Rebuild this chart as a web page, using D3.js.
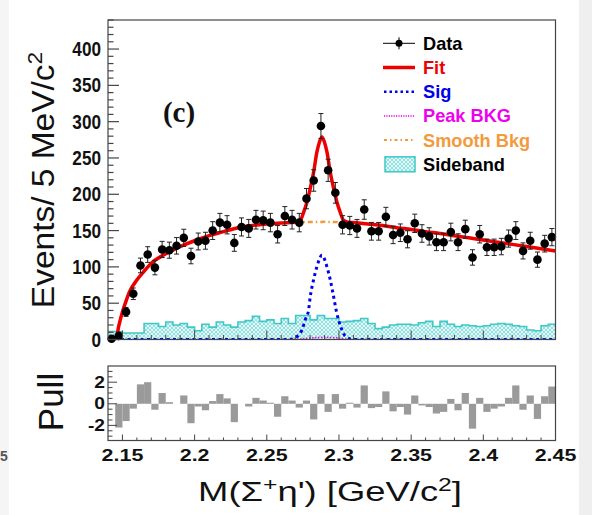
<!DOCTYPE html>
<html>
<head>
<meta charset="utf-8">
<script src="https://cdn.jsdelivr.net/npm/d3@7"></script>
<style>
  html, body { margin: 0; padding: 0; background: #fff; }
  svg { display: block; font-family: "Liberation Sans", Arial, Helvetica, sans-serif; }
</style>
</head>
<body>
<div id="container"></div>
<script>
/* CONSTANTS AND GLOBALS */
const width = 592,
  height = 515,
  main = { left: 108, right: 555.5, top: 20, bottom: 339.5 },
  pull = { left: 108, right: 555.5, top: 366, bottom: 440.5 }

/* DATA */
// bins of 5 MeV from 2.14 to 2.45
const binLo = 2.14, binW = 0.005
const dataCounts = [1, 5, 38, 63, 102, 117, 99, 124, 123, 129,
  140, 115, 135, 136, 150, 161, 158, 133, 155, 153,
  165, 164, 161, 145, 170, 165, 161, 194, 219, 294,
  233, 202, 158, 157, 153, 179, 149, 149, 169, 144,
  147, 138, 160, 146, 142, 134, 134, 148, 134, 152,
  113, 145, 127, 127, 128, 139, 150, 122, 136, 110,
  132, 141]
const sidebandCounts = [11, 11, 9, 9, 9, 22, 22, 18, 24, 20,
  22, 17, 12, 21, 17, 24, 20, 17, 24, 26,
  32, 25, 27, 22, 29, 22, 33, 33, 27, 33,
  29, 29, 24, 25, 26, 29, 22, 15, 17, 20,
  21, 21, 20, 23, 25, 18, 25, 21, 18, 20,
  19, 18, 19, 21, 22, 21, 19, 18, 13, 12,
  19, 21]
const pullVals = [0, -2.2, -1.6, -0.45, 1.8, 2.0, -0.55, 1.0, 0.15, 0,
  0.77, -1.8, -0.25, -0.6, 0.25, 0.9, 0.5, -1.7, 0, -0.25,
  0.55, 0.3, 0.1, -1.2, 0.7, 0.3, -0.35, 0.3, -1.45, 0.9,
  -0.75, 0.9, -0.45, 0.1, -0.35, 1.7, -0.4, -0.3, 1.15, -0.7,
  -0.3, -1.0, 0.77, -0.15, -0.3, -0.9, -0.75, 0.45, -0.6, 1.0,
  -2.3, 0.55, -0.75, -0.45, -0.25, 0.55, 1.7, -0.55, 0.77, -1.4,
  0.7, 1.6]

// fit curve
const fitMass = [2.1462, 2.147, 2.148, 2.150, 2.152, 2.155, 2.160, 2.165, 2.170, 2.180,
  2.190, 2.200, 2.210, 2.220, 2.230, 2.240, 2.250, 2.260, 2.270, 2.2732,
  2.2755, 2.2778, 2.2801, 2.2824, 2.2847, 2.2865, 2.2882, 2.2899, 2.2917, 2.2940,
  2.2963, 2.2986, 2.3009, 2.3032, 2.3055, 2.310, 2.320, 2.330, 2.340, 2.350,
  2.360, 2.370, 2.380, 2.390, 2.400, 2.410, 2.420, 2.430, 2.440, 2.450]
const fitVals = [0, 14, 23, 38, 50, 66, 82, 94, 105, 118,
  128, 136, 143, 148.5, 154, 157, 159, 160.5, 161.5, 164,
  175, 189, 208, 230, 258, 272, 279, 272, 258, 230,
  208, 189, 175, 164, 162, 161, 159, 157, 154, 151.5,
  148.5, 146, 143, 140, 137, 134, 131, 128, 125, 122]

// smooth background
const bkgMass = [2.1462, 2.147, 2.148, 2.150, 2.152, 2.155, 2.160, 2.165, 2.170, 2.180,
  2.190, 2.200, 2.210, 2.220, 2.230, 2.240, 2.250, 2.260, 2.270, 2.280,
  2.290, 2.300, 2.310, 2.320, 2.330, 2.340, 2.350, 2.360, 2.370, 2.380,
  2.390, 2.400, 2.410, 2.420, 2.430, 2.440, 2.450]
const bkgVals = [0, 14, 23, 38, 50, 66, 82, 94, 105, 118,
  128, 136, 143, 148.5, 154, 157, 159, 160.5, 161.5, 161.8,
  162, 161.8, 161, 159, 157, 154, 151.5, 148.5, 146, 143,
  140, 137, 134, 131, 128, 125, 122]

// signal shape
const sigMass = [2.140, 2.266, 2.2720, 2.2743, 2.2766, 2.2789, 2.2801, 2.2824, 2.2847, 2.2882,
  2.2917, 2.2940, 2.2963, 2.2981, 2.2997, 2.3021, 2.3044, 2.310, 2.450]
const sigVals = [0, 0, 6, 13, 27, 40, 59, 82, 100, 116,
  100, 82, 59, 40, 27, 13, 4.5, 0, 0]

// peaking background
const peakMass = [2.140, 2.268, 2.280, 2.290, 2.300, 2.308, 2.450]
const peakVals = [0, 0, 2, 3, 2, 0, 0]

const yTicks = [0, 50, 100, 150, 200, 250, 300, 350, 400]
const xTicks = [2.15, 2.2, 2.25, 2.3, 2.35, 2.4, 2.45]
const pullTicks = [-2, 0, 2]

const legendItems = [
  { label: "Data", color: "#000" },
  { label: "Fit", color: "#ee0000" },
  { label: "Sig", color: "#0000ee" },
  { label: "Peak BKG", color: "#ee00ee" },
  { label: "Smooth Bkg", color: "#f39a3c" },
  { label: "Sideband", color: "#000" }
]

/* SCALES */
const xScale = d3.scaleLinear()
  .domain([2.14, 2.45])
  .range([main.left, main.right])

const yScale = d3.scaleLinear()
  .domain([0, 440])
  .range([main.bottom, main.top])

const pScale = d3.scaleLinear()
  .domain([-3.4, 3.5])
  .range([pull.bottom, pull.top])

/* HTML ELEMENTS */
const svg = d3.select("#container")
  .append("svg")
  .attr("width", width)
  .attr("height", height)

// page edges
svg.append("rect").attr("x", 0).attr("y", 0).attr("width", width).attr("height", height).attr("fill", "#fff")
svg.append("rect").attr("x", 579).attr("y", 0).attr("width", 13).attr("height", height).attr("fill", "#efefef")
svg.append("rect").attr("x", 0).attr("y", 0).attr("width", 9).attr("height", height).attr("fill", "#f5f5f5")
svg.append("text").attr("x", 0).attr("y", 461).attr("font-size", 14).attr("font-weight", "bold").attr("fill", "#555").text("5")

// hatch pattern for sideband
const defs = svg.append("defs")
const pat = defs.append("pattern")
  .attr("id", "hatch")
  .attr("patternUnits", "userSpaceOnUse")
  .attr("width", 4).attr("height", 4)
pat.append("rect").attr("width", 4).attr("height", 4).attr("fill", "#e4f8f8")
pat.append("path").attr("d", "M0,0 L4,4 M4,0 L0,4").attr("stroke", "#6ed6d6").attr("stroke-width", 0.7)

defs.append("clipPath").attr("id", "clipMain")
  .append("rect").attr("x", main.left).attr("y", main.top)
  .attr("width", main.right - main.left).attr("height", main.bottom - main.top)

const plot = svg.append("g").attr("clip-path", "url(#clipMain)")

// sideband histogram
const bins = dataCounts.map((d, i) => ({ lo: binLo + i * binW, hi: binLo + (i + 1) * binW }))
const sbArea = d3.area()
  .curve(d3.curveStepAfter)
  .x(d => xScale(d.x))
  .y0(yScale(0))
  .y1(d => yScale(d.y))
const sbPts = sidebandCounts.map((c, i) => ({ x: bins[i].lo, y: c }))
sbPts.push({ x: bins[bins.length - 1].hi, y: sidebandCounts[sidebandCounts.length - 1] })
plot.append("path")
  .datum(sbPts)
  .attr("d", sbArea)
  .attr("fill", "url(#hatch)")
plot.append("path")
  .datum(sbPts)
  .attr("d", d3.line().curve(d3.curveStepAfter).x(d => xScale(d.x)).y(d => yScale(d.y)))
  .attr("fill", "none")
  .attr("stroke", "#3fc8c8")
  .attr("stroke-width", 1.6)

// curves
const curveLine = d3.line()
  .curve(d3.curveMonotoneX)
  .x(d => xScale(d[0]))
  .y(d => yScale(d[1]))

plot.append("path")
  .datum(peakMass.map((m, i) => [m, peakVals[i]]))
  .attr("d", curveLine)
  .attr("fill", "none")
  .attr("stroke", "#ee00ee")
  .attr("stroke-width", 1.5)
  .attr("stroke-dasharray", "1.5,1.5")

plot.append("path")
  .datum(sigMass.map((m, i) => [m, sigVals[i]]))
  .attr("d", curveLine)
  .attr("fill", "none")
  .attr("stroke", "#0000ee")
  .attr("stroke-width", 3)
  .attr("stroke-dasharray", "3,3.5")

plot.append("path")
  .datum(bkgMass.map((m, i) => [m, bkgVals[i]]))
  .attr("d", curveLine)
  .attr("fill", "none")
  .attr("stroke", "#f39a3c")
  .attr("stroke-width", 2.5)
  .attr("stroke-dasharray", "5,3,1.5,3")

plot.append("path")
  .datum(fitMass.map((m, i) => [m, fitVals[i]]))
  .attr("d", curveLine)
  .attr("fill", "none")
  .attr("stroke", "#ee0000")
  .attr("stroke-width", 3.5)

// data points with sqrt(N) errors
const pts = svg.append("g")
const dataPts = dataCounts.map((c, i) => ({ x: (bins[i].lo + bins[i].hi) / 2, y: c, e: Math.sqrt(c) }))
pts.selectAll("line.err")
  .data(dataPts)
  .join("line")
  .attr("class", "err")
  .attr("x1", d => xScale(d.x)).attr("x2", d => xScale(d.x))
  .attr("y1", d => yScale(d.y - d.e)).attr("y2", d => yScale(d.y + d.e))
  .attr("stroke", "#222").attr("stroke-width", 1)
pts.selectAll("path.cap")
  .data(dataPts)
  .join("path")
  .attr("class", "cap")
  .attr("d", d => {
    const x = xScale(d.x), a = yScale(d.y - d.e), b = yScale(d.y + d.e)
    return `M${x - 2.5},${a}H${x + 2.5}M${x - 2.5},${b}H${x + 2.5}`
  })
  .attr("stroke", "#222").attr("stroke-width", 1)
pts.selectAll("circle.dot")
  .data(dataPts)
  .join("circle")
  .attr("class", "dot")
  .attr("cx", d => xScale(d.x))
  .attr("cy", d => yScale(d.y))
  .attr("r", 4.3)
  .attr("fill", "#000")

// frame + ticks (main)
svg.append("rect")
  .attr("x", main.left).attr("y", main.top)
  .attr("width", main.right - main.left).attr("height", main.bottom - main.top)
  .attr("fill", "none").attr("stroke", "#444").attr("stroke-width", 1.2)

const yMinor = d3.range(0, 441, 10)
svg.append("g").selectAll("line")
  .data(yMinor)
  .join("line")
  .attr("x1", main.left)
  .attr("x2", d => main.left + (d % 50 === 0 ? 11 : 5.5))
  .attr("y1", d => yScale(d)).attr("y2", d => yScale(d))
  .attr("stroke", "#444").attr("stroke-width", 1.2)

const xMinor = d3.range(0, 31).map(i => 2.15 + i * 0.01).filter(v => v <= 2.4501)
svg.append("g").selectAll("line")
  .data(xMinor)
  .join("line")
  .attr("x1", d => xScale(d)).attr("x2", d => xScale(d))
  .attr("y1", main.bottom)
  .attr("y2", (d, i) => main.bottom - (i % 5 === 0 ? 9 : 4.5))
  .attr("stroke", "#444").attr("stroke-width", 1)

svg.append("g").selectAll("text")
  .data(yTicks)
  .join("text")
  .attr("transform", d => `translate(101,${yScale(d) + 7}) scale(0.88,1)`)
  .attr("text-anchor", "end")
  .attr("font-size", 19.5)
  .attr("font-weight", "bold")
  .attr("fill", "#111")
  .text(d => d)

// y title
const yt = svg.append("text")
  .attr("transform", `translate(54,180) rotate(-90) scale(1.08,1)`)
  .attr("text-anchor", "middle")
  .attr("font-size", 31)
  .attr("fill", "#111")
yt.append("tspan").text("Events/ 5 MeV/c")
yt.append("tspan").attr("baseline-shift", "super").attr("font-size", 21).text("2")

// (c)
svg.append("text")
  .attr("x", 179).attr("y", 122)
  .attr("text-anchor", "middle")
  .attr("font-family", '"Liberation Serif", "DejaVu Serif", serif')
  .attr("font-weight", "bold")
  .attr("font-size", 29)
  .attr("fill", "#111")
  .text("(c)")

// legend
const legY = d3.scaleLinear().domain([0, 5]).range([43.3, 164.3])
const leg = svg.append("g")
leg.selectAll("text")
  .data(legendItems)
  .join("text")
  .attr("x", 423)
  .attr("y", (d, i) => legY(i) + 6.5)
  .attr("font-size", 18.2)
  .attr("font-weight", "bold")
  .attr("fill", d => d.color)
  .text(d => d.label)

// legend symbols
leg.append("line").attr("x1", 383).attr("x2", 415).attr("y1", legY(0)).attr("y2", legY(0)).attr("stroke", "#000").attr("stroke-width", 1)
leg.append("line").attr("x1", 399).attr("x2", 399).attr("y1", legY(0) - 6).attr("y2", legY(0) + 6).attr("stroke", "#000").attr("stroke-width", 1)
leg.append("circle").attr("cx", 399).attr("cy", legY(0)).attr("r", 3.5).attr("fill", "#000")
leg.append("line").attr("x1", 383).attr("x2", 415).attr("y1", legY(1)).attr("y2", legY(1)).attr("stroke", "#ee0000").attr("stroke-width", 3.5)
leg.append("line").attr("x1", 384).attr("x2", 415).attr("y1", legY(2)).attr("y2", legY(2)).attr("stroke", "#0000ee").attr("stroke-width", 2.5).attr("stroke-dasharray", "2.5,3")
leg.append("line").attr("x1", 384).attr("x2", 415).attr("y1", legY(3)).attr("y2", legY(3)).attr("stroke", "#ee00ee").attr("stroke-width", 1.5).attr("stroke-dasharray", "1.2,1.2")
leg.append("line").attr("x1", 384).attr("x2", 415).attr("y1", legY(4)).attr("y2", legY(4)).attr("stroke", "#f39a3c").attr("stroke-width", 2).attr("stroke-dasharray", "3,3,1.5,3")
leg.append("rect").attr("x", 385).attr("y", legY(5) - 7.5).attr("width", 30).attr("height", 15)
  .attr("fill", "url(#hatch)").attr("stroke", "#3fc8c8").attr("stroke-width", 1.5)

/* PULL PANEL */
svg.append("g").selectAll("rect")
  .data(pullVals.map((v, i) => ({ v, b: bins[i] })))
  .join("rect")
  .attr("x", d => xScale(d.b.lo))
  .attr("width", d => xScale(d.b.hi) - xScale(d.b.lo))
  .attr("y", d => pScale(Math.max(0, d.v)))
  .attr("height", d => Math.abs(pScale(d.v) - pScale(0)))
  .attr("fill", "#9a9a9a")

svg.append("rect")
  .attr("x", pull.left).attr("y", pull.top)
  .attr("width", pull.right - pull.left).attr("height", pull.bottom - pull.top)
  .attr("fill", "none").attr("stroke", "#444").attr("stroke-width", 1.2)

svg.append("g").selectAll("line")
  .data(d3.range(-3, 3.01, 0.5))
  .join("line")
  .attr("x1", pull.left)
  .attr("x2", d => pull.left + (d % 2 === 0 ? 9 : 4.5))
  .attr("y1", d => pScale(d)).attr("y2", d => pScale(d))
  .attr("stroke", "#444").attr("stroke-width", 1)

svg.append("g").selectAll("line")
  .data(xMinor)
  .join("line")
  .attr("x1", d => xScale(d)).attr("x2", d => xScale(d))
  .attr("y1", pull.bottom)
  .attr("y2", (d, i) => pull.bottom - (i % 5 === 0 ? 6 : 3))
  .attr("stroke", "#444").attr("stroke-width", 1)

svg.append("g").selectAll("text")
  .data(pullTicks)
  .join("text")
  .attr("transform", d => `translate(105,${pScale(d) + 5.5}) scale(1.2,1)`)
  .attr("text-anchor", "end")
  .attr("font-size", 16)
  .attr("font-weight", "bold")
  .attr("fill", "#111")
  .text(d => d)

svg.append("g").selectAll("text")
  .data(xTicks)
  .join("text")
  .attr("transform", d => `translate(${xScale(d)},461) scale(1.3,1)`)
  .attr("text-anchor", "middle")
  .attr("font-size", 16.5)
  .attr("font-weight", "bold")
  .attr("fill", "#111")
  .text(d => d)

svg.append("text")
  .attr("transform", "translate(63,402) rotate(-90)")
  .attr("text-anchor", "middle")
  .attr("font-size", 35)
  .attr("fill", "#111")
  .text("Pull")

const xt = svg.append("text")
  .attr("transform", "translate(330,501) scale(1.3,1)")
  .attr("text-anchor", "middle")
  .attr("font-size", 28)
  .attr("fill", "#111")
xt.append("tspan").text("M(Σ")
xt.append("tspan").attr("baseline-shift", "super").attr("font-size", 19).text("+")
xt.append("tspan").text("η') [GeV/c")
xt.append("tspan").attr("baseline-shift", "super").attr("font-size", 19).text("2")
xt.append("tspan").text("]")
</script>
</body>
</html>
